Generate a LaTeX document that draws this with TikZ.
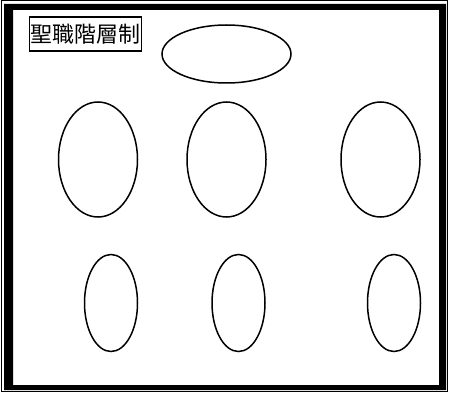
\documentclass[tikz,border=0pt]{standalone}
\usepackage{fontspec}
\newfontfamily\cjk{Noto Sans CJK TC}
\usetikzlibrary{positioning,shapes.geometric}

\tikzset{
  oval/.style={draw,ellipse,line width=1.5pt,inner sep=0pt},
  bigoval/.style={oval,minimum width=79pt,minimum height=115pt},
  smalloval/.style={oval,minimum width=53pt,minimum height=97pt},
  titlebox/.style={draw,line width=1.2pt,inner sep=0pt,minimum width=112pt,minimum height=34pt,font=\cjk\fontsize{22}{22}\selectfont}
}

\begin{document}
\begin{tikzpicture}[x=1pt,y=-1pt]
\useasboundingbox (0,0) rectangle (449,393);
% frame
\draw[line width=1pt] (1,1) rectangle (447.5,391.5);
\fill[even odd rule] (4,4) rectangle (446,390) (13,10) rectangle (439,385);
% title
\node[titlebox] (title) at (85.5,34) {聖職階層制};
\node[oval,minimum width=129pt,minimum height=58pt] (top) at (226.5,54) {};
% middle row
\node[bigoval] (m1) at (98,159.5) {};
\node[bigoval,right=48pt of m1] (m2) {};
\node[bigoval,right=73.5pt of m2] (m3) {};
% bottom row
\node[smalloval] (b1) at (111,303) {};
\node[smalloval,right=73pt of b1] (b2) {};
\node[smalloval,right=101pt of b2] (b3) {};
\end{tikzpicture}
\end{document}
